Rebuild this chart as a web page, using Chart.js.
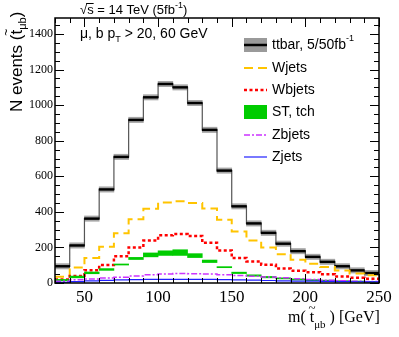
<!DOCTYPE html>
<html><head><meta charset="utf-8">
<script src="https://cdn.jsdelivr.net/npm/chart.js@4"></script>
<style>html,body{margin:0;padding:0;background:#fff;}canvas{display:block;}</style>
</head><body>
<canvas id="c" width="399" height="337"></canvas>
<script>
// ---- data ----
const binEdges = [30,40,50,60,70,80,90,100,110,120,130,140,150,160,170,180,190,200,210,220,230,240,250];
const ttbar    = [94,211,362,526,709,917,1044,1119,1100,1012,861,632,431,335,282,221,179,147,119,94,71,56];
const ttbarErr = [15,15,15,15,15,15,15,15,15,15,15,15,15,15,15,15,15,15,15,15,15,15];
const wjets    = [35,87,140,204,280,358,417,452,459,450,419,356,290,239,199,162,131,108,90,70,54,44];
const wbjets   = [19,39,72,101,150,200,239,268,276,264,226,183,140,121,102,81,69,61,49,36,30,24];
const stTch    = [16,34,57,76,104,138,158,168,171,154,122,89,57,42,33,26,20,16,13,10,8,6];
const stErr    = [4,5,5,5,3,6,11,13,16,11,7,3,4,4,4,3,3,3,3,3,3,3];
const zbjets   = [10,18,22,28,33,40,46,50,53,52,50,47,42,38,34,29,24,20,16,13,10,8];
const zjets    = [4,8,12,15,18,19,20,20,20,20,20,19,18,16,14,12,11,10,9,8,7,6];
const xTickValues = [50,100,150,200,250];
const yTickValues = [0,200,400,600,800,1000,1200,1400];

// ---- helpers building library data from the arrays ----
const centers = binEdges.slice(0,-1).map((e,i)=>(e+binEdges[i+1])/2);
const stepPts = vals => vals.map((v,i)=>({x:binEdges[i],y:v})).concat([{x:binEdges[binEdges.length-1],y:vals[vals.length-1]}]);
const band = (vals,errs) => vals.map((v,i)=>({x:centers[i],y:[v-errs[i],v+errs[i]]}));

const SANS = "'Liberation Sans', Arial, sans-serif";
const SERIF = "'Liberation Serif', 'Times New Roman', serif";

function runs(ctx,x,y,parts){
  for(const p of parts){ctx.font=p.f;ctx.fillText(p.t,x,y+(p.dy||0));x+=ctx.measureText(p.t).width;}
  return x;
}

const deco = {
  id:'deco',
  afterDraw(chart){
    const {ctx, chartArea:a, scales:{x,y}} = chart;
    ctx.save();
    // frame
    ctx.strokeStyle='#000'; ctx.lineWidth=1.5;
    ctx.strokeRect(a.left,a.top,a.right-a.left,a.bottom-a.top);
    // inward ticks
    ctx.lineWidth=1; ctx.beginPath();
    for(let v=30; v<=250; v+=10){
      const px=Math.round(x.getPixelForValue(v))+0.5, L=(v%50===0)?9:5;
      ctx.moveTo(px,a.bottom);ctx.lineTo(px,a.bottom-L);
      ctx.moveTo(px,a.top);ctx.lineTo(px,a.top+L);
    }
    for(let v=0; v<=y.max; v+=50){
      const py=Math.round(y.getPixelForValue(v))+0.5, L=(v%200===0)?9:5;
      ctx.moveTo(a.left,py);ctx.lineTo(a.left+L,py);
      ctx.moveTo(a.right,py);ctx.lineTo(a.right-L,py);
    }
    ctx.stroke();

    ctx.fillStyle='#000'; ctx.textBaseline='alphabetic'; ctx.textAlign='left';
    // top text
    ctx.font='13px '+SANS;
    const wRoot=ctx.measureText('\u221A').width, wS=ctx.measureText('s').width;
    ctx.lineWidth=1; ctx.beginPath(); ctx.moveTo(80+wRoot-1,3.5); ctx.lineTo(80+wRoot+wS,3.5); ctx.stroke();
    runs(ctx,80,14,[{t:'\u221As = 14 TeV (5fb',f:'13px '+SANS},{t:'-1',f:'9px '+SANS,dy:-6},{t:')',f:'13px '+SANS}]);
    runs(ctx,80,38,[{t:'\u03BC, b p',f:'14px '+SANS},{t:'T',f:'9px '+SANS,dy:4},{t:' > 20, 60 GeV',f:'14px '+SANS}]);

    // y title (rotated)
    ctx.save();
    ctx.translate(22,112); ctx.rotate(-Math.PI/2);
    let xx = runs(ctx,0,0,[{t:'N events (',f:'17px '+SANS}]);
    ctx.font='17px '+SANS; const tw=ctx.measureText('t').width;
    ctx.fillText('t',xx,0);
    ctx.font='12px '+SANS; ctx.fillText('~',xx+tw/2-ctx.measureText('~').width/2,-12);
    xx+=tw;
    xx = runs(ctx,xx,0,[{t:'\u03BCb',f:'11px '+SANS,dy:4},{t:')',f:'17px '+SANS}]);
    ctx.restore();

    // x title
    let x2 = runs(ctx,288,322,[{t:'m( ',f:'16px '+SERIF}]);
    ctx.font='16px '+SERIF; const tw2=ctx.measureText('t').width;
    ctx.fillText('t',x2,322);
    ctx.font='13px '+SERIF; ctx.fillText('~',x2+tw2/2-ctx.measureText('~').width/2,312);
    x2+=tw2;
    runs(ctx,x2,322,[{t:'\u03BCb',f:'11px '+SERIF,dy:6},{t:' ) [GeV]',f:'16px '+SERIF}]);

    // legend
    const lx0=244, lx1=267, tx=272;
    const rows=[45,68,90,112,135,157];
    ctx.fillStyle='#9a9a9a'; ctx.fillRect(lx0,38,lx1-lx0,14);
    ctx.strokeStyle='#000'; ctx.lineWidth=2.5; ctx.setLineDash([]);
    ctx.beginPath(); ctx.moveTo(lx0,45); ctx.lineTo(lx1,45); ctx.stroke();
    ctx.strokeStyle='#ffc400'; ctx.lineWidth=2; ctx.setLineDash([9,5]);
    ctx.beginPath(); ctx.moveTo(lx0,68); ctx.lineTo(lx1,68); ctx.stroke();
    ctx.strokeStyle='#ff0000'; ctx.lineWidth=2.5; ctx.setLineDash([3,2.5]);
    ctx.beginPath(); ctx.moveTo(lx0,90); ctx.lineTo(lx1,90); ctx.stroke();
    ctx.setLineDash([]); ctx.fillStyle='#00cc00'; ctx.fillRect(lx0,105,lx1-lx0,14);
    ctx.strokeStyle='#cc33ff'; ctx.lineWidth=1.5; ctx.setLineDash([6,2,2,2]);
    ctx.beginPath(); ctx.moveTo(lx0,135); ctx.lineTo(lx1,135); ctx.stroke();
    ctx.strokeStyle='#2020ff'; ctx.lineWidth=1.2; ctx.setLineDash([]);
    ctx.beginPath(); ctx.moveTo(lx0,157); ctx.lineTo(lx1,157); ctx.stroke();

    ctx.fillStyle='#000'; ctx.textBaseline='middle';
    runs(ctx,tx,rows[0],[{t:'ttbar, 5/50fb',f:'14px '+SANS},{t:'-1',f:'9px '+SANS,dy:-6}]);
    const names=['Wjets','Wbjets','ST, tch','Zbjets','Zjets'];
    names.forEach((n,i)=>{ctx.font='14px '+SANS; ctx.fillText(n,tx,rows[i+1]);});
    ctx.restore();
  }
};

const lineDs = (label,vals,color,width,dash,order)=>({
  type:'line',label,data:stepPts(vals),borderColor:color,borderWidth:width,borderDash:dash,
  stepped:'before',pointRadius:0,fill:false,order,borderCapStyle:'butt'
});
const barDs = (label,vals,errs,color,order)=>({
  type:'bar',label,data:band(vals,errs),backgroundColor:color,borderWidth:0,
  barPercentage:1,categoryPercentage:1,grouped:false,order
});

new Chart(document.getElementById('c'),{
  type:'line',
  data:{datasets:[
    barDs('ttbar band',ttbar,ttbarErr,'#a6a6a6',20),
    lineDs('ttbar',ttbar,'#555555',1.2,[],19),
    barDs('ttbar core',ttbar,ttbar.map(()=>5),'#000000',18),
    lineDs('Wjets',wjets,'#ffc400',2,[9,5],10),
    lineDs('Wbjets',wbjets,'#ff0000',2.5,[3,2.5],9),
    barDs('ST, tch',stTch,stErr,'#00cc00',8),
    lineDs('Zbjets',zbjets,'#cc33ff',1.5,[6,2,2,2],7),
    lineDs('Zjets',zjets,'#2020ff',1.2,[],6)
  ]},
  options:{
    responsive:false, animation:false, devicePixelRatio:1,
    layout:{padding:{top:18,right:20,left:0,bottom:0}},
    plugins:{legend:{display:false},tooltip:{enabled:false}},
    scales:{
      x:{type:'linear',min:30,max:250,offset:false,
        grid:{display:false,drawTicks:false},border:{display:false},
        afterBuildTicks:s=>{s.ticks=xTickValues.map(v=>({value:v}));},
        afterFit:s=>{s.height=54;},
        ticks:{autoSkip:false,maxRotation:0,padding:4,color:'#000',font:{family:SERIF,size:17},callback:v=>String(v)}},
      y:{type:'linear',min:0,max:1490,
        grid:{display:false,drawTicks:false},border:{display:false},
        afterBuildTicks:s=>{s.ticks=yTickValues.map(v=>({value:v}));},
        afterFit:s=>{s.width=55;},
        ticks:{padding:2,color:'#000',font:{family:SERIF,size:12},callback:v=>String(v)}}
    }
  },
  plugins:[deco]
});
</script>
</body></html>
